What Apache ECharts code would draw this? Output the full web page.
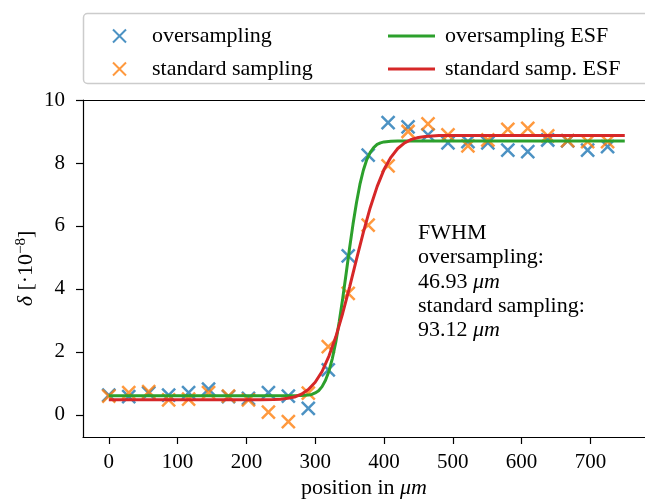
<!DOCTYPE html>
<html>
<head>
<meta charset="utf-8">
<script src="https://cdn.jsdelivr.net/npm/echarts@6/dist/echarts.min.js"></script>
<style>html,body{margin:0;padding:0;background:#fff}#c{width:645px;height:502px}</style>
</head>
<body>
<div id="c"></div>
<script>
// sample positions (µm)
var positions = [0,29,58,87,116,145,174,203,232,261,290,319,348,377,406,435,464,493,522,551,580,609,638,667,696,725];
var overValues = [0.63,0.58,0.69,0.63,0.71,0.82,0.58,0.53,0.71,0.60,0.21,1.43,5.05,8.25,9.28,9.15,8.89,8.64,8.68,8.64,8.41,8.36,8.73,8.70,8.41,8.52];
var stdValues  = [0.60,0.71,0.74,0.48,0.50,0.71,0.60,0.48,0.09,-0.21,0.69,2.17,3.86,6.03,7.91,9.00,9.24,8.89,8.54,8.73,9.07,9.10,8.86,8.71,8.68,8.68];
// fitted ESF curves
var overEsfX = [0,250,280,290,295,300,305,310,315,320,325,330,335,340,345,350,355,360,365,370,375,380,385,390,395,400,410,420,750];
var overEsfY = [0.61,0.61,0.62,0.63,0.65,0.70,0.77,0.90,1.10,1.39,1.80,2.32,2.97,3.70,4.49,5.30,6.06,6.74,7.32,7.77,8.11,8.34,8.49,8.59,8.64,8.67,8.69,8.70,8.70];
var stdEsfX = [0,200,220,240,250,260,270,280,290,300,310,320,330,340,350,360,370,380,390,400,410,420,430,440,450,460,480,750];
var stdEsfY = [0.48,0.48,0.48,0.49,0.50,0.53,0.57,0.66,0.81,1.04,1.38,1.87,2.48,3.23,4.06,4.94,5.80,6.58,7.25,7.79,8.18,8.46,8.64,8.75,8.81,8.84,8.87,8.87];
var xTicks = [0,100,200,300,400,500,600,700];
var yTicks = [0,2,4,6,8,10];

function pairs(xs, ys){ return xs.map(function(x,i){ return [x, ys[i]]; }); }

var FF = 'Liberation Serif';
var XSYM = 'path://M0,0L10,10M0,10L10,0';
var chart = echarts.init(document.getElementById('c'), null, {renderer:'canvas'});
chart.setOption({
  backgroundColor:'#fff',
  animation:false,
  grid:{left:83, right:0, top:100, bottom:65, show:false, outerBoundsMode:'none', containLabel:false},
  xAxis:[{
    type:'value', min:-37.5, max:779.4,
    axisLine:{show:true, onZero:false, lineStyle:{color:'#000', width:1.2}},
    axisTick:{show:true, length:7, customValues:xTicks, lineStyle:{color:'#000', width:1.2}},
    axisLabel:{customValues:xTicks, margin:15, fontFamily:FF, fontSize:21, color:'#000'},
    splitLine:{show:false},
    name:'position in {i|μm}', nameLocation:'middle', nameGap:40, nameMoveOverlap:false,
    nameTextStyle:{fontFamily:FF, fontSize:22, color:'#000', rich:{i:{fontFamily:FF, fontSize:22, fontStyle:'italic', color:'#000'}}}
  },{
    type:'value', position:'top', min:-37.5, max:779.4,
    axisLine:{show:true, onZero:false, lineStyle:{color:'#000', width:1.2}},
    axisTick:{show:false}, axisLabel:{show:false}, splitLine:{show:false}
  }],
  yAxis:{
    type:'value', min:-0.7, max:10,
    axisLine:{show:true, onZero:false, lineStyle:{color:'#000', width:1.2}},
    axisTick:{show:true, length:7, customValues:yTicks, lineStyle:{color:'#000', width:1.2}},
    axisLabel:{customValues:yTicks, margin:18, fontFamily:FF, fontSize:21, color:'#000'},
    splitLine:{show:false},
    name:'{d|δ} [·10{s|−8}]', nameLocation:'middle', nameGap:44, nameRotate:90, nameMoveOverlap:false,
    nameTextStyle:{fontFamily:FF, fontSize:22, color:'#000', rich:{
      d:{fontFamily:FF, fontSize:22, fontStyle:'italic', color:'#000'},
      s:{fontFamily:FF, fontSize:15, color:'#000', padding:[0,0,10,0]}
    }}
  },
  legend:[
    {data:['oversampling','standard sampling'], orient:'vertical', left:107, top:19, itemWidth:13, itemHeight:13, itemGap:9, z:10,
     textStyle:{fontFamily:FF, fontSize:22, lineHeight:24, color:'#000', padding:[0,0,0,21]}},
    {data:['oversampling ESF','standard samp. ESF'], orient:'vertical', left:383, top:19, itemWidth:47, itemHeight:3, itemGap:9, icon:'rect', z:10,
     textStyle:{fontFamily:FF, fontSize:22, lineHeight:24, color:'#000', padding:[0,0,0,5]}}
  ],
  graphic:[
    {type:'rect', z:1, shape:{x:83.5, y:13.5, width:620, height:70, r:4}, style:{fill:'rgba(255,255,255,0.8)', stroke:'#cccccc', lineWidth:1.5}},
    {type:'text', z:10, left:418, top:221, style:{
      text:'FWHM\noversampling:\n46.93 {i|μm}\nstandard sampling:\n93.12 {i|μm}',
      font:'22px "Liberation Serif"', fill:'#000', lineHeight:24.3,
      rich:{i:{fontFamily:FF, fontSize:22, fontStyle:'italic', fill:'#000', lineHeight:24.3}}
    }}
  ],
  series:[
    {name:'oversampling', type:'scatter', data:pairs(positions, overValues), symbol:XSYM, symbolSize:13, z:2,
     itemStyle:{color:'rgba(0,0,0,0)', borderColor:'#1f77b4', borderWidth:2.5}},
    {name:'standard sampling', type:'scatter', data:pairs(positions, stdValues), symbol:XSYM, symbolSize:13, z:3,
     itemStyle:{color:'rgba(0,0,0,0)', borderColor:'#ff7f0e', borderWidth:2.5}},
    {name:'oversampling ESF', type:'line', data:pairs(overEsfX, overEsfY), showSymbol:false, symbol:'none', z:4,
     lineStyle:{color:'#2ca02c', width:3}, itemStyle:{color:'#2ca02c'}},
    {name:'standard samp. ESF', type:'line', data:pairs(stdEsfX, stdEsfY), showSymbol:false, symbol:'none', z:5,
     lineStyle:{color:'#d62728', width:3}, itemStyle:{color:'#d62728'}}
  ]
});
</script>
</body>
</html>
